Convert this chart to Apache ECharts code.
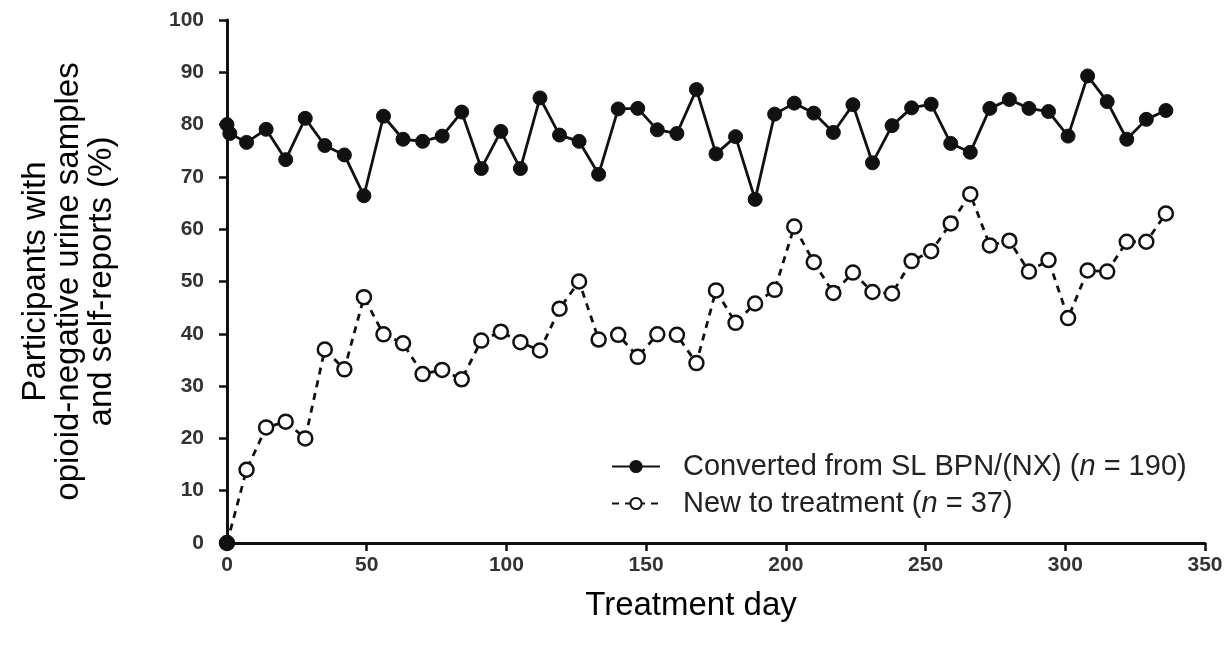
<!DOCTYPE html>
<html>
<head>
<meta charset="utf-8">
<script src="https://cdn.jsdelivr.net/npm/echarts@6/dist/echarts.min.js"></script>
<style>
  html, body { margin: 0; padding: 0; background: #fff; }
  #main { width: 1232px; height: 650px; }
</style>
</head>
<body>
<div id="main"></div>
<script>
// treatment days (weekly visits)
var convDays = [0, 1, 7, 14, 21, 28, 35, 42, 49, 56, 63, 70, 77, 84, 91, 98, 105, 112, 119, 126, 133,
  140, 147, 154, 161, 168, 175, 182, 189, 196, 203, 210, 217, 224, 231, 238, 245, 252, 259, 266,
  273, 280, 287, 294, 301, 308, 315, 322, 329, 336];
var convVals = [80, 78.3, 76.6, 79.1, 73.3, 81.2, 76.0, 74.2, 66.4, 81.6, 77.2, 76.8, 77.8, 82.4, 71.6,
  78.7, 71.6, 85.1, 78.0, 76.8, 70.5, 83.0, 83.1, 79.0, 78.3, 86.7, 74.4, 77.7, 65.7, 82.0,
  84.1, 82.2, 78.5, 83.8, 72.7, 79.8, 83.2, 83.9, 76.4, 74.7, 83.1, 84.8, 83.1, 82.5, 77.8,
  89.3, 84.4, 77.2, 81.0, 82.7];

var newDays = [0, 7, 14, 21, 28, 35, 42, 49, 56, 63, 70, 77, 84, 91, 98, 105, 112, 119, 126, 133,
  140, 147, 154, 161, 168, 175, 182, 189, 196, 203, 210, 217, 224, 231, 238, 245, 252, 259, 266,
  273, 280, 287, 294, 301, 308, 315, 322, 329, 336];
var newVals = [0, 14.0, 22.1, 23.2, 20.0, 37.0, 33.2, 47.0, 39.9, 38.2, 32.3, 33.1, 31.3, 38.7, 40.4,
  38.4, 36.8, 44.8, 50.0, 38.9, 39.8, 35.6, 39.9, 39.8, 34.4, 48.3, 42.1, 45.8, 48.4, 60.5,
  53.7, 47.8, 51.7, 48.0, 47.7, 53.9, 55.8, 61.1, 66.7, 56.9, 57.8, 51.9, 54.1, 43.0, 52.1,
  51.9, 57.6, 57.6, 63.0];

var xTicks = [0, 50, 100, 150, 200, 250, 300, 350];
var yTicks = [0, 10, 20, 30, 40, 50, 60, 70, 80, 90, 100];

var nameConv = 'Converted from SL BPN/(NX) (n = 190)';
var nameNew = 'New to treatment (n = 37)';

function pairs(xs, ys) {
  return xs.map(function (x, i) { return [x, ys[i]]; });
}

var newData = pairs(newDays, newVals);
// origin point drawn filled
newData[0] = { value: newData[0], itemStyle: { color: '#111' } };

var chart = echarts.init(document.getElementById('main'));
chart.setOption({
  animation: false,
  backgroundColor: '#fff',
  grid: { left: 227, right: 27, top: 20, bottom: 107, containLabel: false, outerBoundsMode: 'none' },
  legend: {
    orient: 'vertical',
    left: 606,
    top: 447,
    itemWidth: 48,
    itemHeight: 14,
    itemGap: 8,
    data: [nameConv, nameNew],
    formatter: function (name) {
      return name.replace('(n = ', '({i|n} = ');
    },
    textStyle: {
      fontFamily: 'Liberation Sans, Arial, sans-serif',
      fontSize: 29,
      color: '#222',
      padding: [0, 0, 0, 18],
      rich: {
        i: { fontStyle: 'italic', fontSize: 29, color: '#222', fontFamily: 'Liberation Sans, Arial, sans-serif' }
      }
    }
  },
  xAxis: {
    type: 'value',
    min: 0,
    max: 350,
    interval: 50,
    name: 'Treatment day',
    nameLocation: 'middle',
    nameGap: 46,
    nameTextStyle: {
      fontFamily: 'Liberation Sans, Arial, sans-serif',
      fontSize: 33,
      color: '#000',
      padding: [0, 50, 0, 0]
    },
    splitLine: { show: false },
    axisLine: { lineStyle: { color: '#111', width: 3 } },
    axisTick: { length: 8, lineStyle: { color: '#111', width: 2.5 } },
    axisLabel: {
      margin: 12,
      fontFamily: 'Liberation Sans, Arial, sans-serif',
      fontWeight: 'bold',
      fontSize: 21,
      color: '#333',
      formatter: function (v) { return xTicks.indexOf(v) >= 0 ? String(v) : ''; }
    }
  },
  yAxis: {
    type: 'value',
    min: 0,
    max: 100,
    interval: 10,
    name: 'Participants with\nopioid-negative urine samples\nand self-reports (%)',
    nameLocation: 'middle',
    nameGap: 109,
    nameTextStyle: {
      fontFamily: 'Liberation Sans, Arial, sans-serif',
      fontSize: 33,
      lineHeight: 33,
      color: '#000',
      align: 'center'
    },
    splitLine: { show: false },
    axisLine: { lineStyle: { color: '#111', width: 3 } },
    axisTick: { length: 8, lineStyle: { color: '#111', width: 2.5 } },
    axisLabel: {
      margin: 23,
      fontFamily: 'Liberation Sans, Arial, sans-serif',
      fontWeight: 'bold',
      fontSize: 21,
      color: '#333',
      formatter: function (v) { return yTicks.indexOf(v) >= 0 ? String(v) : ''; }
    }
  },
  series: [
    {
      name: nameConv,
      type: 'line',
      data: pairs(convDays, convVals),
      symbol: 'circle',
      symbolSize: 14,
      z: 3,
      lineStyle: { color: '#111', width: 2.8 },
      itemStyle: { color: '#111', borderColor: '#111', borderWidth: 1 }
    },
    {
      name: nameNew,
      type: 'line',
      data: newData,
      symbol: 'circle',
      symbolSize: 14,
      z: 2,
      lineStyle: { color: '#111', width: 2.8, type: [7, 6] },
      itemStyle: { color: '#fff', borderColor: '#111', borderWidth: 2.5 }
    }
  ]
});
</script>
</body>
</html>
